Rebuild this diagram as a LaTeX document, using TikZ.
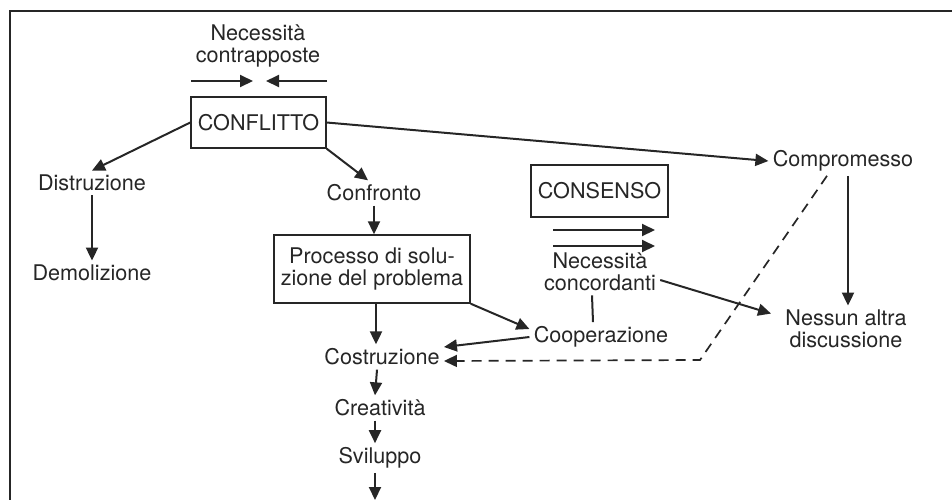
\documentclass[tikz,border=0pt]{standalone}
\usepackage{fontspec}
\setmainfont{TeX Gyre Heros}
\usetikzlibrary{arrows.meta, positioning}

\begin{document}
\begin{tikzpicture}[
  x=0.5pt, y=-0.5pt,
  color=black!85,
  font=\fontsize{10.8}{11}\selectfont,
  box/.style={rectangle, draw, line width=0.7pt, align=center, inner sep=2pt},
  lbl/.style={inner sep=2pt, align=center},
  arrow/.style={-{Triangle[length=6.5pt, width=6pt]}, line width=1pt},
  link/.style={line width=1pt},
  dasharrow/.style={-{Triangle[length=6.5pt, width=6pt]}, line width=0.85pt, dash pattern=on 5pt off 3.5pt}
]
  \useasboundingbox (0,0) rectangle (952,499);
  % Cornice
  \draw[line width=0.8pt] (970,11) -- (10,11) -- (10,520);

  % Conflitto
  \node[lbl] (contrap) at (258,46) {Necessità\\contrapposte};
  \node[box, minimum width=67.5pt, minimum height=25.5pt] (conflitto) at (258.5,122.5) {CONFLITTO};
  \coordinate (spintaL) at (191,81);
  \coordinate (puntaL) at (253,81);
  \coordinate (spintaR) at (327,81);
  \coordinate (puntaR) at (266,81);

  % Rami a sinistra
  \node[lbl] (distruzione) at (92,183) {Distruzione};
  \node[lbl] (demolizione) at (92,273) {Demolizione};

  % Catena centrale
  \node[lbl] (confronto) at (374,193) {Confronto};
  \node[box, minimum width=98pt, minimum height=34pt] (processo) at (372,269) {Processo di solu-\\zione del problema};
  \node[lbl] (costruzione) at (382,357) {Costruzione};
  \node[lbl] (creativita) at (380,408) {Creatività};
  \node[lbl] (sviluppo) at (380,458) {Sviluppo};
  \coordinate (uscita) at (375,500);

  % Consenso
  \node[box, minimum width=68.5pt, minimum height=26pt] (consenso) at (599.5,191) {CONSENSO};
  \coordinate (accA) at (553,230);
  \coordinate (accAtip) at (655,230);
  \coordinate (accB) at (553,246);
  \coordinate (accBtip) at (655,246);
  \node[lbl] (concord) at (600,272) {Necessità\\concordanti};
  \node[lbl] (cooperazione) at (601,337) {Cooperazione};

  % Compromesso
  \node[lbl] (compromesso) at (843,161) {Compromesso};
  \node[lbl] (nessuna) at (846,329) {Nessun altra\\discussione};
  \coordinate (piega) at (700,360);

  \draw[arrow] (spintaL) -- (puntaL);
  \draw[arrow] (spintaR) -- (puntaR);
  \draw[arrow] (conflitto.west) -- (distruzione.north);
  \draw[arrow] (distruzione.south) -- (demolizione.north);
  \draw[arrow] (conflitto.south east) -- ([xshift=-3pt]confronto.north);
  \draw[arrow] (conflitto.east) -- (compromesso.west);
  \draw[arrow] (confronto.south) -- (confronto.south |- processo.north);
  \draw[arrow] ([xshift=2pt]processo.south) -- ([xshift=-3pt]costruzione.north);
  \draw[arrow] ([xshift=-2.5pt]costruzione.south) -- ([xshift=-2.5pt]creativita.north);
  \draw[arrow] ([xshift=-2.5pt]creativita.south) -- ([xshift=-2.5pt]sviluppo.north);
  \draw[arrow] ([xshift=-2.5pt]sviluppo.south) -- (uscita);
  \draw[arrow] (processo.south east) -- ([yshift=4pt]cooperazione.west);
  \draw[arrow] (cooperazione.west) -- ([yshift=5pt]costruzione.east);
  \draw[arrow] (accA) -- (accAtip);
  \draw[arrow] (accB) -- (accBtip);
  \draw[link] ([xshift=-4pt]concord.south) -- ([xshift=-4pt]cooperazione.north);
  \draw[arrow] ([yshift=-4pt]concord.east) -- ([xshift=-5pt, yshift=-4pt]nessuna.north west);
  \draw[arrow] ([xshift=2.5pt]compromesso.south) -- ([xshift=1pt]nessuna.north);
  \draw[dasharrow] ([xshift=-8pt]compromesso.south) -- (piega) -- ([yshift=-2pt]costruzione.east);
\end{tikzpicture}
\end{document}
